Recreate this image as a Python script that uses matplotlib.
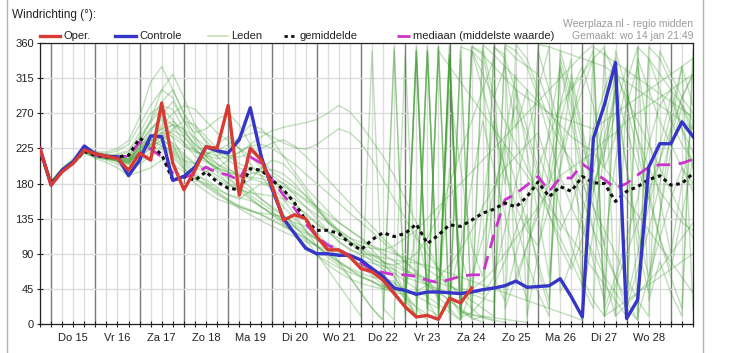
import numpy as np
import matplotlib
matplotlib.use("Agg")
import matplotlib.pyplot as plt
from matplotlib.lines import Line2D

plt.rcParams['font.family'] = ['Liberation Sans', 'DejaVu Sans']

# time axis: 6-hourly steps, in days from Thu 15 Jan 00:00 (first value Wed 14 18:00)
n_steps = 60
times = -0.25 + 0.25 * np.arange(n_steps)

day_labels = ["Do 15", "Vr 16", "Za 17", "Zo 18", "Ma 19", "Di 20", "Wo 21",
              "Do 22", "Vr 23", "Za 24", "Zo 25", "Ma 26", "Di 27", "Wo 28"]
y_ticks = [0, 45, 90, 135, 180, 225, 270, 315, 360]

oper = [225, 178, 195, 206, 223, 218, 215, 212, 197, 219, 210, 283, 206, 172, 197, 227,
        225, 280, 165, 225, 210, 176, 133, 140, 135, 112, 95, 95, 86, 71, 67, 56,
        39, 22, 9, 11, 6, 33, 27, 46]

controle = [225, 178, 197, 208, 228, 218, 215, 214, 190, 210, 241, 240, 184, 189, 201, 227,
            222, 219, 236, 277, 214, 172, 135, 116, 97, 90, 90, 88, 88, 82, 71, 61,
            46, 43, 38, 41, 41, 40, 39, 41, 44, 46, 49, 55, 47, 48, 49, 58,
            35, 9, 238, 281, 335, 7, 31, 201, 231, 231, 259, 240]

gemiddelde = [222, 180, 196, 207, 221, 216, 214, 214, 216, 238, 229, 217, 184, 189, 184, 195,
              182, 174, 172, 199, 197, 184, 172, 155, 133, 120, 120, 116, 103, 95, 108, 117,
              112, 116, 128, 103, 114, 127, 125, 133, 142, 147, 155, 150, 163, 182, 163, 176,
              170, 189, 181, 180, 157, 170, 176, 185, 190, 178, 180, 193]

mediaan = [222, 180, 196, 207, 222, 216, 214, 214, 215, 233, 224, 214, 193, 188, 192, 201,
           194, 191, 184, 214, 206, 184, 165, 148, 129, 112, 101, 95, 88, 78, 69, 66,
           63, 63, 61, 56, 53, 57, 61, 63, 63, 114, 159, 167, 178, 189, 170, 187,
           187, 205, 195, 185, 174, 180, 191, 201, 204, 204, 206, 211]

leden = [
    [224, 180, 197, 206, 222, 216, 212, 210, 205, 230, 250, 262, 238, 210, 205, 215,
     230, 240, 225, 205, 190, 170, 150, 135, 120, 108, 100, 95, 85, 75, 62, 50,
     40, 20, 350, 10, 355, 5, 355, 350, 300, 250, 200, 150, 120, 100, 150, 200,
     260, 320, 350, 20, 60, 110, 160, 230, 280, 300, 250, 200],
    [222, 179, 194, 208, 224, 218, 214, 216, 220, 240, 260, 285, 300, 270, 240, 220,
     205, 195, 180, 170, 160, 150, 140, 125, 110, 100, 90, 80, 70, 60, 55, 45,
     40, 38, 42, 50, 60, 75, 95, 120, 150, 175, 200, 215, 230, 245, 200, 150,
     100, 60, 30, 10, 350, 300, 240, 200, 170, 150, 130, 120],
    [221, 181, 198, 205, 220, 214, 210, 205, 195, 205, 215, 225, 220, 205, 190, 185,
     175, 165, 160, 170, 180, 175, 160, 140, 120, 100, 85, 75, 60, 40, 20, 5,
     350, 10, 340, 20, 355, 15, 350, 5, 10, 5, 2, 358, 340, 300, 260, 230,
     210, 180, 150, 120, 90, 60, 30, 10, 350, 320, 290, 270],
    [223, 178, 196, 209, 223, 220, 218, 222, 230, 255, 280, 300, 290, 260, 245, 250,
     262, 270, 255, 230, 210, 195, 185, 175, 165, 150, 135, 120, 110, 105, 100, 95,
     90, 85, 80, 70, 60, 50, 40, 30, 20, 10, 355, 340, 330, 320, 280, 240,
     200, 160, 120, 90, 60, 30, 5, 340, 300, 260, 230, 210],
    [220, 177, 195, 207, 221, 215, 213, 208, 200, 215, 235, 245, 230, 200, 180, 170,
     160, 155, 150, 145, 140, 132, 125, 118, 110, 100, 90, 80, 72, 65, 60, 58,
     55, 30, 10, 350, 20, 345, 5, 45, 55, 70, 90, 110, 130, 150, 170, 190,
     200, 210, 220, 235, 245, 260, 270, 280, 290, 300, 310, 320],
    [224, 182, 199, 210, 225, 219, 216, 214, 212, 225, 240, 250, 255, 245, 230, 220,
     215, 225, 240, 255, 250, 235, 215, 195, 175, 160, 145, 130, 120, 110, 100, 90,
     80, 70, 60, 50, 40, 30, 20, 10, 358, 345, 330, 315, 300, 285, 270, 255,
     240, 230, 220, 200, 180, 160, 140, 120, 100, 80, 60, 40],
    [223, 180, 196, 205, 220, 213, 211, 209, 207, 218, 228, 235, 228, 215, 205, 200,
     190, 180, 175, 185, 200, 210, 205, 190, 170, 150, 130, 115, 105, 95, 85, 75,
     65, 55, 45, 35, 25, 15, 5, 355, 345, 330, 315, 300, 290, 280, 270, 265,
     260, 255, 250, 260, 270, 280, 290, 300, 310, 320, 330, 340],
    [225, 183, 200, 212, 226, 221, 220, 225, 235, 265, 310, 330, 300, 270, 250, 235,
     220, 210, 200, 195, 190, 185, 180, 170, 160, 150, 140, 130, 120, 110, 95, 80,
     60, 40, 20, 5, 350, 330, 310, 290, 270, 250, 230, 210, 190, 170, 150, 130,
     110, 90, 70, 50, 30, 10, 355, 340, 320, 300, 280, 260],
    [222, 179, 195, 204, 219, 212, 207, 200, 190, 195, 200, 210, 205, 195, 185, 180,
     170, 160, 150, 145, 142, 140, 138, 130, 125, 118, 100, 80, 60, 40, 20, 5,
     355, 15, 350, 20, 10, 345, 8, 15, 30, 50, 80, 120, 160, 200, 240, 280,
     300, 320, 340, 355, 10, 25, 40, 55, 70, 90, 110, 130],
    [224, 181, 198, 208, 224, 217, 214, 213, 210, 220, 230, 240, 250, 260, 255, 240,
     225, 215, 205, 200, 195, 190, 180, 165, 150, 135, 120, 105, 95, 90, 88, 85,
     82, 80, 78, 75, 70, 65, 60, 55, 50, 45, 40, 35, 30, 25, 20, 15,
     10, 5, 355, 345, 335, 325, 315, 305, 295, 285, 275, 265],
    [221, 178, 197, 207, 222, 216, 215, 218, 222, 245, 270, 280, 275, 250, 225, 210,
     195, 180, 170, 160, 150, 142, 135, 125, 112, 100, 88, 78, 70, 62, 55, 48,
     42, 20, 350, 25, 355, 18, 340, 12, 10, 8, 6, 4, 2, 358, 355, 350,
     345, 340, 335, 330, 320, 310, 300, 290, 280, 270, 260, 250],
    [223, 180, 196, 206, 221, 215, 213, 211, 208, 222, 238, 255, 270, 280, 275, 260,
     245, 235, 225, 215, 200, 185, 170, 155, 140, 128, 118, 110, 105, 100, 97, 95,
     100, 110, 120, 135, 150, 165, 180, 195, 210, 225, 240, 255, 270, 285, 300, 315,
     330, 345, 358, 10, 20, 30, 40, 50, 60, 70, 80, 90],
    [222, 182, 198, 207, 223, 218, 216, 215, 214, 228, 242, 238, 225, 210, 200, 195,
     200, 210, 220, 228, 230, 225, 215, 205, 192, 180, 168, 155, 142, 130, 118, 105,
     92, 80, 68, 55, 42, 30, 18, 8, 355, 290, 330, 250, 300, 220, 180, 260,
     310, 240, 170, 230, 290, 200, 120, 60, 140, 220, 280, 240],
    [224, 179, 197, 209, 225, 219, 215, 212, 206, 214, 224, 232, 218, 200, 188, 178,
     168, 158, 148, 140, 132, 125, 118, 112, 106, 100, 95, 90, 86, 82, 78, 74,
     70, 40, 10, 350, 30, 355, 46, 42, 38, 60, 30, 90, 140, 70, 20, 350,
     300, 330, 280, 200, 240, 310, 355, 30, 80, 40, 10, 340],
    [223, 181, 197, 206, 221, 216, 214, 213, 211, 226, 246, 268, 285, 260, 235, 215,
     200, 188, 176, 165, 155, 145, 130, 115, 100, 88, 80, 72, 66, 60, 54, 48,
     44, 40, 120, 60, 30, 200, 90, 40, 150, 260, 180, 300, 220, 140, 60, 200,
     320, 250, 180, 100, 210, 280, 330, 240, 160, 90, 180, 260],
    [222, 180, 195, 207, 222, 217, 212, 209, 204, 214, 226, 236, 248, 240, 225, 210,
     198, 186, 174, 162, 150, 140, 132, 124, 116, 108, 100, 92, 84, 76, 68, 60,
     52, 44, 36, 28, 20, 300, 200, 100, 60, 160, 240, 320, 10, 90, 200, 280,
     340, 30, 120, 220, 300, 200, 100, 40, 140, 250, 330, 280],
    [225, 183, 199, 210, 226, 220, 217, 216, 215, 232, 250, 265, 255, 232, 215, 208,
     200, 195, 190, 186, 182, 178, 170, 160, 150, 140, 130, 120, 110, 100, 90, 80,
     70, 60, 55, 50, 45, 40, 100, 180, 260, 200, 140, 80, 30, 350, 300, 250,
     190, 130, 80, 30, 330, 280, 220, 160, 110, 60, 20, 350],
    [221, 177, 194, 206, 220, 214, 212, 210, 208, 218, 230, 240, 232, 218, 206, 196,
     186, 178, 172, 168, 166, 164, 160, 152, 142, 130, 118, 106, 96, 88, 82, 78,
     76, 80, 90, 110, 140, 180, 220, 260, 300, 340, 20, 60, 100, 140, 180, 220,
     260, 300, 340, 10, 50, 90, 130, 170, 210, 250, 290, 320],
    [224, 181, 198, 209, 224, 218, 215, 213, 211, 224, 240, 252, 260, 248, 230, 215,
     205, 198, 192, 188, 186, 182, 176, 168, 158, 146, 132, 118, 104, 92, 80, 70,
     62, 35, 10, 350, 15, 340, 16, 8, 2, 355, 345, 50, 100, 150, 250, 330,
     280, 200, 150, 100, 60, 20, 340, 300, 260, 230, 200, 180],
    [222, 179, 196, 207, 223, 217, 214, 214, 216, 236, 258, 276, 262, 240, 222, 210,
     200, 194, 190, 192, 196, 198, 192, 180, 164, 148, 132, 118, 106, 96, 88, 80,
     74, 68, 63, 58, 53, 48, 43, 38, 33, 28, 230, 180, 130, 80, 30, 330,
     260, 190, 120, 60, 10, 300, 240, 170, 110, 70, 140, 210],
    [223, 180, 197, 208, 223, 216, 213, 211, 209, 221, 236, 250, 244, 232, 222, 216,
     212, 214, 220, 230, 240, 248, 252, 255, 258, 262, 270, 280, 272, 255, 235, 215,
     190, 160, 130, 100, 70, 40, 10, 350, 320, 290, 260, 230, 200, 170, 140, 110,
     80, 50, 20, 350, 320, 290, 260, 230, 200, 170, 140, 110],
    [224, 182, 198, 207, 222, 216, 213, 210, 206, 217, 230, 244, 256, 250, 238, 228,
     220, 216, 214, 218, 225, 232, 236, 228, 215, 200, 185, 170, 155, 140, 125, 110,
     95, 80, 65, 50, 35, 20, 5, 350, 335, 60, 120, 180, 240, 300, 355, 40,
     80, 140, 200, 260, 320, 30, 90, 150, 210, 270, 330, 20],
    [223, 179, 196, 208, 224, 217, 213, 212, 210, 232, 262, 300, 320, 290, 255, 232,
     215, 200, 188, 175, 160, 148, 138, 128, 118, 110, 104, 96, 88, 80, 70, 58,
     46, 34, 22, 12, 4, 358, 20, 60, 110, 170, 230, 280, 240, 190, 140, 100,
     70, 110, 170, 240, 300, 250, 200, 160, 230, 290, 250, 220],
    [222, 181, 197, 206, 221, 215, 212, 208, 198, 208, 220, 228, 222, 208, 194, 182,
     172, 166, 162, 158, 150, 140, 128, 115, 100, 88, 76, 66, 58, 52, 48, 45,
     43, 20, 355, 30, 5, 340, 6, 356, 348, 270, 200, 130, 80, 40, 10, 340,
     290, 230, 180, 220, 270, 330, 10, 60, 110, 160, 200, 170],
    [224, 180, 198, 208, 223, 218, 214, 212, 208, 220, 234, 246, 240, 228, 220, 218,
     222, 230, 238, 244, 246, 240, 232, 226, 224, 230, 240, 250, 245, 232, 210, 185,
     160, 135, 110, 90, 70, 52, 35, 20, 8, 355, 340, 300, 250, 200, 160, 120,
     150, 200, 250, 300, 340, 20, 70, 120, 180, 240, 290, 320],
    [223, 181, 197, 207, 222, 216, 214, 213, 212, 224, 236, 228, 214, 198, 186, 176,
     166, 158, 152, 146, 140, 134, 126, 118, 108, 90, 70, 50, 30, 10, 350, 20,
     5, 345, 25, 355, 10, 340, 16, 12, 8, 4, 358, 350, 330, 290, 240, 190,
     150, 120, 90, 60, 40, 20, 5, 355, 340, 310, 280, 250],
]

W, H = 732, 353
fig = plt.figure(figsize=(W / 100, H / 100), dpi=100)
fig.patch.set_facecolor("white")
ax = fig.add_axes([40 / W, 1 - 324 / H, 653 / W, 281 / H])


def fx(px):
    return px / W


def fy(py):
    return 1 - py / H


# grid
for t in times:
    dark = abs(t - round(t)) < 1e-6
    ax.axvline(t, color="#7a7a7a" if dark else "#dcdcdc", lw=1.0, zorder=0)
for v in y_ticks:
    ax.axhline(v, color="#dcdcdc", lw=1.0, zorder=0)

# ensemble members
for m in leden:
    k = min(len(m), len(times))
    ax.plot(times[:k], m[:k], color="#3f9e30", lw=1.0, alpha=0.32, zorder=1)

ax.plot(times[:len(mediaan)], mediaan, color="#cc33cc", lw=2.0, dashes=(5, 3), zorder=3)
ax.plot(times[:len(gemiddelde)], gemiddelde, color="#111111", lw=2.2, dashes=(1.2, 1.2), zorder=4)
ax.plot(times[:len(controle)], controle, color="#3535c8", lw=2.4, zorder=5)
ax.plot(times[:len(oper)], oper, color="#d83a34", lw=2.4, zorder=6)

ax.set_xlim(times[0], times[-1])
ax.set_ylim(0, 360)

ax.set_yticks(y_ticks)
ax.set_yticklabels([str(v) for v in y_ticks], fontsize=8, color="#222222")
label_pos = np.arange(len(day_labels)) + 0.5
ax.set_xticks(label_pos)
ax.set_xticklabels(day_labels, fontsize=8, color="#222222")
ax.set_xticks(times, minor=True)
ax.tick_params(axis="both", which="both", direction="inout", length=5, width=0.8, color="#222222")
ax.tick_params(axis="x", which="major", pad=4)
ax.tick_params(axis="y", which="major", pad=2)
for s in ax.spines.values():
    s.set_color("#222222")
    s.set_linewidth(0.9)

# title and source text
fig.text(fx(12), fy(15), "Windrichting (°):", fontsize=8.5, color="#222222", va="center", ha="left")
fig.text(fx(693), fy(24), "Weerplaza.nl - regio midden", fontsize=7.5, color="#9a9a9a", va="center", ha="right")
fig.text(fx(693), fy(36), "Gemaakt: wo 14 jan 21:49", fontsize=7.5, color="#9a9a9a", va="center", ha="right")

# legend
legend_items = [
    ("Oper.", dict(color="#d83a34", lw=2.4), 40, 60),
    ("Controle", dict(color="#3535c8", lw=2.4), 115, 136),
    ("Leden", dict(color="#c8dcb8", lw=1.2), 208, 228),
    ("gemiddelde", dict(color="#111111", lw=2.0, dashes=(1.2, 1.2)), 284, 296),
    ("mediaan (middelste waarde)", dict(color="#cc33cc", lw=2.0, dashes=(5, 3)), 397, 410),
]
ly = fy(36)
for label, style, x0, x1 in legend_items:
    fig.add_artist(Line2D([fx(x0), fx(x1)], [ly, ly], transform=fig.transFigure, **style))
    fig.text(fx(x1 + 3), ly, label, fontsize=8, color="#222222", va="center", ha="left")

# outer frame lines
for xb in (7, 703):
    fig.add_artist(Line2D([fx(xb), fx(xb)], [0, 1], transform=fig.transFigure, color="#b0b0b0", lw=1.0))

fig.savefig("out.png", dpi=100)
